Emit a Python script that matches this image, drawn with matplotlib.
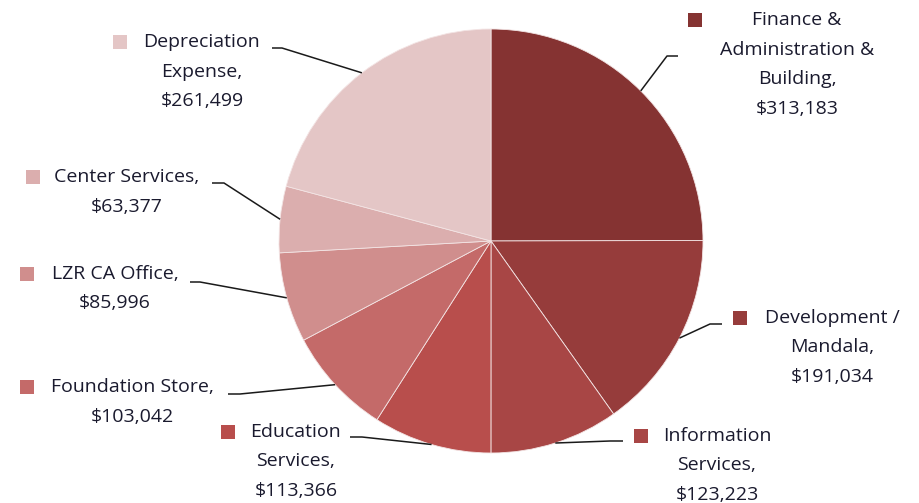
import numpy as np
import matplotlib.pyplot as plt

# data
categories = ["Finance &\nAdministration &\nBuilding,", "Development /\nMandala,",
              "Information\nServices,", "Education\nServices,",
              "Foundation Store,", "LZR CA Office,", "Center Services,",
              "Depreciation\nExpense,"]
values = [313183, 191034, 123223, 113366, 103042, 85996, 63377, 261499]
colors = ["#853332", "#963c3b", "#a84645", "#b84e4c",
          "#c46a69", "#d08e8d", "#dbaeae", "#e4c6c6"]

W, H = 920, 503
fig = plt.figure(figsize=(W / 100, H / 100), dpi=100)
ax = fig.add_axes([0, 0, 1, 1])

cx, cy, r = 491, H - 241, 212
wedges, _ = ax.pie(values, colors=colors, startangle=90, counterclock=False,
                   center=(cx, cy), radius=r, frame=True,
                   wedgeprops=dict(edgecolor="#f3e4e4", linewidth=0.6))
ax.set_xlim(0, W)
ax.set_ylim(0, H)
ax.set_aspect("equal")
ax.axis("off")

# label layout: text center x, first line y (pixels from top), square x,
# leader start (x, y), leader elbow (x, y)
layout = [
    (797, 20, 695, (678, 56), (667, 56)),
    (832, 318, 740, (722, 324), (710, 324)),
    (717, 436, 641, (623, 441), (610, 441)),
    (296, 432, 228, (350, 437), (362, 437)),
    (132, 387, 27, (228, 394), (240, 394)),
    (115, 274, 27, (190, 282), (200, 282)),
    (127, 177, 33, (212, 183), (224, 183)),
    (202, 42, 120, (272, 48), (282, 48)),
]

font = ["Open Sans", "DejaVu Sans"]
line_h = 29.5
for w, cat, val, col, (tx, ty, sx, p0, p1) in zip(wedges, categories, values, colors, layout):
    lines = cat.split("\n") + ["${:,}".format(val)]
    for i, s in enumerate(lines):
        ax.text(tx, H - (ty + i * line_h), s, ha="center", va="center",
                fontsize=14, family=font, color="#1a1a2e")
    ax.scatter([sx], [H - ty], marker="s", s=95, color=col, linewidths=0)
    # leader line to wedge edge at mid angle
    mid = np.deg2rad((w.theta1 + w.theta2) / 2)
    ex, ey = cx + r * np.cos(mid), cy + r * np.sin(mid)
    ax.plot([p0[0], p1[0], ex], [H - p0[1], H - p1[1], ey],
            color="#1a1a1a", linewidth=1.1, solid_capstyle="butt")

fig.savefig("out.png", dpi=100)
